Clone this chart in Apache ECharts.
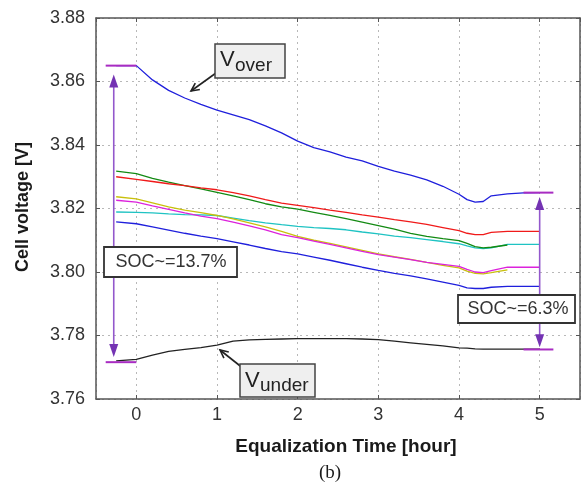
<!DOCTYPE html>
<html><head><meta charset="utf-8">
<script src="https://cdn.jsdelivr.net/npm/echarts@6/dist/echarts.min.js"></script>
<style>html,body{margin:0;padding:0;background:#fff}#c{width:584px;height:487px}</style>
</head><body><div id="c"></div>
<script>
// ---- data ----
const hours = [-0.25, 0, 0.2, 0.4, 0.6, 0.8, 1.0, 1.2, 1.4, 1.6, 1.8, 2.0, 2.2, 2.4, 2.6, 2.8, 3.0, 3.2, 3.4, 3.6, 3.8, 4.0, 4.1, 4.2, 4.3, 4.4, 4.6, 4.8, 5.0];
const vOver   = [3.8650,3.8650,3.8605,3.8572,3.8548,3.8528,3.8510,3.8495,3.8480,3.8460,3.8438,3.8412,3.8392,3.8378,3.8362,3.8350,3.8333,3.8318,3.8305,3.8290,3.8270,3.8245,3.8228,3.8220,3.8222,3.8240,3.8246,3.8249,3.8250];
const cellRed = [3.8300,3.8292,3.8285,3.8278,3.8272,3.8265,3.8259,3.8250,3.8240,3.8228,3.8217,3.8210,3.8203,3.8195,3.8188,3.8180,3.8173,3.8165,3.8158,3.8150,3.8140,3.8130,3.8122,3.8118,3.8118,3.8125,3.8128,3.8128,3.8128];
const cellGreen = [3.8318,3.8310,3.8295,3.8283,3.8272,3.8262,3.8251,3.8240,3.8228,3.8215,3.8205,3.8198,3.8188,3.8178,3.8168,3.8157,3.8146,3.8135,3.8122,3.8112,3.8105,3.8099,3.8090,3.8080,3.8076,3.8078,3.8085,null,null];
const cellCyan = [3.8189,3.8188,3.8186,3.8183,3.8181,3.8180,3.8178,3.8170,3.8162,3.8155,3.8149,3.8144,3.8140,3.8137,3.8133,3.8126,3.8120,3.8113,3.8108,3.8102,3.8096,3.8089,3.8082,3.8076,3.8074,3.8076,3.8087,3.8087,3.8087];
const cellYellow = [3.8237,3.8230,3.8218,3.8205,3.8195,3.8187,3.8178,3.8167,3.8155,3.8142,3.8128,3.8112,3.8100,3.8090,3.8079,3.8068,3.8057,3.8048,3.8040,3.8030,3.8021,3.8013,3.8003,3.7996,3.7994,3.7998,3.8007,null,null];
const cellMagenta = [3.8226,3.8220,3.8208,3.8197,3.8186,3.8176,3.8168,3.8157,3.8145,3.8133,3.8118,3.8108,3.8097,3.8087,3.8076,3.8065,3.8055,3.8047,3.8039,3.8030,3.8024,3.8018,3.8008,3.8000,3.7998,3.8004,3.8015,3.8015,3.8015];
const cellBlue = [3.8158,3.8152,3.8142,3.8132,3.8122,3.8113,3.8105,3.8095,3.8085,3.8074,3.8064,3.8057,3.8047,3.8037,3.8026,3.8015,3.8005,3.7996,3.7988,3.7978,3.7968,3.7958,3.7950,3.7948,3.7948,3.7952,3.7955,3.7955,3.7955];
const vUnder = [3.7720,3.7725,3.7738,3.7750,3.7756,3.7762,3.7770,3.7782,3.7786,3.7788,3.7789,3.7790,3.7790,3.7790,3.7790,3.7789,3.7787,3.7782,3.7777,3.7772,3.7767,3.7761,3.7760,3.7758,3.7757,3.7757,3.7757,3.7757,3.7757];

// SOC brackets: x-span of the level marks, levels, arrow x and arrow tips
const leftBracketX = [-0.38, 0];
const leftLevels = [3.865, 3.7716];
const leftArrowX = -0.28;
const leftArrowTips = [3.8622, 3.7732];
const rightBracketX = [4.8, 5.17];
const rightLevels = [3.825, 3.7756];
const rightArrowX = 5.0;
const rightArrowTips = [3.8236, 3.7763];

const xRange = [-0.5, 5.5];
const yRange = [3.76, 3.88];
const yStep = 0.02;

const FONT = '"Liberation Sans", Arial, Helvetica, sans-serif';

function pairs(vals){ const out=[]; vals.forEach((v,i)=>{ if(v!==null) out.push([hours[i], v]); }); return out; }

const lineSeries = (name, vals, color) => ({
  name, type:'line', data: pairs(vals), showSymbol:false, symbol:'none',
  lineStyle:{color, width:1.3}, itemStyle:{color}, z:3, animation:false
});
const levelSeries = (xs, level) => ({
  type:'line', data:[[xs[0], level],[xs[1], level]], showSymbol:false, symbol:'none',
  lineStyle:{color:'#a82cc2', width:2}, z:5, animation:false
});

const chart = echarts.init(document.getElementById('c'), null, {renderer:'canvas'});
const axisLineStyle = {color:'#555', width:1.5};
chart.setOption({
  animation:false,
  grid:{left:96, right:4, top:18, bottom:88},
  xAxis:[
    {type:'value', min:xRange[0], max:xRange[1], position:'bottom',
     axisLine:{show:true, onZero:false, lineStyle:axisLineStyle},
     axisTick:{show:true, inside:true, length:4, lineStyle:{color:'#555'}},
     splitLine:{show:true, lineStyle:{type:[2,4], color:'#b8b8b8', width:1}},
     axisLabel:{showMinLabel:false, showMaxLabel:false, fontSize:18, fontFamily:FONT, color:'#333', margin:7}},
    {type:'value', min:xRange[0], max:xRange[1], position:'top',
     axisLine:{show:true, onZero:false, lineStyle:axisLineStyle},
     axisTick:{show:true, inside:true, length:4, lineStyle:{color:'#555'}},
     splitLine:{show:false}, axisLabel:{show:false}}
  ],
  yAxis:[
    {type:'value', min:yRange[0], max:yRange[1], interval:yStep, position:'left',
     axisLine:{show:true, onZero:false, lineStyle:axisLineStyle},
     axisTick:{show:true, inside:true, length:4, lineStyle:{color:'#555'}},
     splitLine:{show:true, lineStyle:{type:[2,4], color:'#b8b8b8', width:1}},
     axisLabel:{fontSize:18, fontFamily:FONT, color:'#333', margin:11, formatter:v=>v.toFixed(2)}},
    {type:'value', min:yRange[0], max:yRange[1], interval:yStep, position:'right',
     axisLine:{show:true, onZero:false, lineStyle:axisLineStyle},
     axisTick:{show:true, inside:true, length:4, lineStyle:{color:'#555'}},
     splitLine:{show:false}, axisLabel:{show:false}}
  ],
  series:[
    lineSeries('V_under', vUnder, '#222222'),
    lineSeries('blue', cellBlue, '#1f1fdc'),
    lineSeries('cyan', cellCyan, '#1fc3c3'),
    lineSeries('yellow', cellYellow, '#c9c00c'),
    lineSeries('magenta', cellMagenta, '#dc22dc'),
    lineSeries('green', cellGreen, '#138a13'),
    lineSeries('red', cellRed, '#f01a1a'),
    lineSeries('V_over', vOver, '#1f1fdc'),
    levelSeries(leftBracketX, leftLevels[0]),
    levelSeries(leftBracketX, leftLevels[1]),
    levelSeries(rightBracketX, rightLevels[0]),
    levelSeries(rightBracketX, rightLevels[1])
  ]
});

// ---- annotations ----
const toPx = (x,y) => chart.convertToPixel({xAxisIndex:0, yAxisIndex:0}, [x,y]);
function doubleArrow(x, tips){
  const a = toPx(x, tips[0]), b = toPx(x, tips[1]);
  const h = 13, w = 4.5;
  return [
    {type:'line', shape:{x1:a[0], y1:a[1]+h-1, x2:b[0], y2:b[1]-h+1}, style:{stroke:'#9358cc', lineWidth:1.6}, z:10},
    {type:'polygon', shape:{points:[[a[0],a[1]],[a[0]-w,a[1]+h],[a[0]+w,a[1]+h]]}, style:{fill:'#7433b3'}, z:10},
    {type:'polygon', shape:{points:[[b[0],b[1]],[b[0]-w,b[1]-h],[b[0]+w,b[1]-h]]}, style:{fill:'#7433b3'}, z:10}
  ];
}
function callout(x1,y1,x2,y2){
  const ang = Math.atan2(y2-y1, x2-x1), L = 9, spread = 0.45;
  const p1 = [x2 - L*Math.cos(ang-spread), y2 - L*Math.sin(ang-spread)];
  const p2 = [x2 - L*Math.cos(ang+spread), y2 - L*Math.sin(ang+spread)];
  return [
    {type:'line', shape:{x1, y1, x2, y2}, style:{stroke:'#222', lineWidth:1.6}, z:10},
    {type:'polyline', shape:{points:[p1,[x2,y2],p2]}, style:{stroke:'#222', lineWidth:1.6, fill:null}, z:10}
  ];
}
const boxStyle = {fill:'#efefef', stroke:'#444', lineWidth:1.5};
const socStyle = {fill:'#ffffff', stroke:'#333', lineWidth:1.8};
const graphics = [
  ...doubleArrow(leftArrowX, leftArrowTips),
  ...doubleArrow(rightArrowX, rightArrowTips),
  // V_over
  {type:'rect', shape:{x:215, y:44, width:70, height:34}, style:boxStyle, z:11},
  {type:'text', x:220, y:60, style:{text:'V', font:'22px '+FONT, fill:'#222', align:'left', verticalAlign:'middle'}, z:12},
  {type:'text', x:235, y:65.5, style:{text:'over', font:'19px '+FONT, fill:'#222', align:'left', verticalAlign:'middle'}, z:12},
  ...callout(216, 73, 191, 91),
  // V_under
  {type:'rect', shape:{x:240, y:364, width:75, height:33}, style:boxStyle, z:11},
  {type:'text', x:245, y:381, style:{text:'V', font:'22px '+FONT, fill:'#222', align:'left', verticalAlign:'middle'}, z:12},
  {type:'text', x:260, y:386, style:{text:'under', font:'19px '+FONT, fill:'#222', align:'left', verticalAlign:'middle'}, z:12},
  ...callout(244, 369, 220, 350),
  // SOC boxes
  {type:'rect', shape:{x:104, y:247, width:133, height:30}, style:socStyle, z:11},
  {type:'text', x:171, y:262.5, style:{text:'SOC~=13.7%', font:'18px '+FONT, fill:'#333', align:'center', verticalAlign:'middle'}, z:12},
  {type:'rect', shape:{x:458, y:295, width:117, height:28}, style:socStyle, z:11},
  {type:'text', x:518, y:309.5, style:{text:'SOC~=6.3%', font:'18px '+FONT, fill:'#333', align:'center', verticalAlign:'middle'}, z:12},
  // axis names and caption
  {type:'text', x:23, y:207, rotation:Math.PI/2, style:{text:'Cell voltage [V]', font:'bold 18px '+FONT, fill:'#1a1a1a', align:'center', verticalAlign:'middle'}, z:12},
  {type:'text', x:346, y:447, style:{text:'Equalization Time [hour]', font:'bold 19px '+FONT, fill:'#1a1a1a', align:'center', verticalAlign:'middle'}, z:12},
  {type:'text', x:330, y:473, style:{text:'(b)', font:'19px "Liberation Serif", "Times New Roman", serif', fill:'#1a1a1a', align:'center', verticalAlign:'middle'}, z:12}
];
chart.setOption({graphic: graphics});
</script>
</body></html>
